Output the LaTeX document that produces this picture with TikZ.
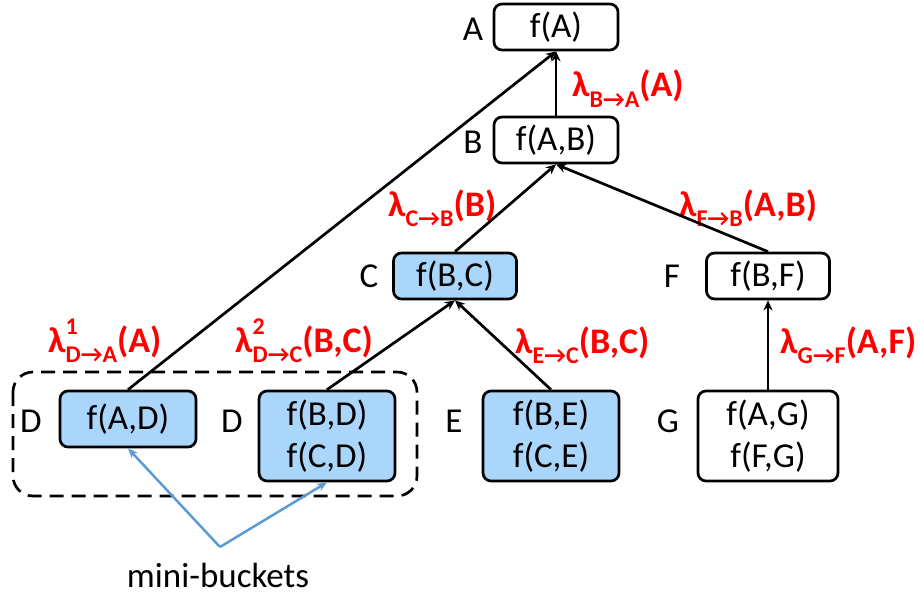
\documentclass[tikz,border=0pt]{standalone}
\usepackage{fontspec}
\setmainfont{Carlito}
\usepackage{tikz}
\usetikzlibrary{arrows.meta}
\definecolor{bucketblue}{RGB}{170,214,252}
\definecolor{pointerblue}{RGB}{91,155,213}
\newcommand{\subfnt}{\fontsize{24}{24}\selectfont}
\newcommand{\msglbl}[3]{λ\rlap{\raisebox{0.5em}{\subfnt #2}}\raisebox{-0.3em}{\subfnt #1}(#3)}

\begin{document}
\begin{tikzpicture}[x=1pt,y=-1pt]
				\useasboundingbox (0,0) rectangle (920,596);
				\begin{scope}[every node/.style={draw,rounded corners=8pt,line width=2.7pt,inner sep=0pt,align=center,minimum height=46pt,font=\fontsize{35}{42}\selectfont}]
				\node[minimum width=124pt] (fA) at (556,27) {f(A)};
				\node[minimum width=124pt] (fAB) at (556,140) {f(A,B)};
				\node[minimum width=123pt,fill=bucketblue] (fBC) at (455,276) {f(B,C)};
				\node[minimum width=123pt] (fBF) at (768,276) {f(B,F)};
				\node[minimum width=136pt,minimum height=56pt,fill=bucketblue] (fAD) at (128,419) {f(A,D)};
				\node[minimum width=136pt,minimum height=90pt,fill=bucketblue] (fBD) at (327,436) {f(B,D)\\f(C,D)};
				\node[minimum width=136pt,minimum height=90pt,fill=bucketblue] (fBE) at (551,436) {f(B,E)\\f(C,E)};
				\node[minimum width=140pt,minimum height=90pt] (fAG) at (768,436) {f(A,G)\\f(F,G)};
				\end{scope}
				\begin{scope}[every node/.style={font=\fontsize{35}{42}\selectfont}]
				\node (A) at (473,29) {A};
				\node (B) at (473,142) {B};
				\node (C) at (369,276) {C};
				\node (F) at (672,276) {F};
				\node (D1) at (31,421) {D};
				\node (D2) at (232,421) {D};
				\node (E) at (454,421) {E};
				\node (G) at (668,421) {G};
				\node (mini) at (218,575) {mini-buckets};
				\end{scope}
				\begin{scope}[every node/.style={text=red,anchor=base west,inner sep=0pt,font=\bfseries\fontsize{36}{42}\selectfont}]
				\node (lBA) at (572,97) {\msglbl{B→A}{}{A}};
				\node (lCB) at (388,216) {\msglbl{C→B}{}{B}};
				\node (lFB) at (679,216) {\msglbl{F→B}{}{A,B}};
				\node (lDA) at (48,352) {\msglbl{D→A}{1}{A}};
				\node (lDC) at (235,352) {\msglbl{D→C}{2}{B,C}};
				\node (lEC) at (515,353) {\msglbl{E→C}{}{B,C}};
				\node (lGF) at (780,353) {\msglbl{G→F}{}{A,F}};
				\end{scope}
				\draw[dashed,dash pattern=on 14pt off 8pt,line width=2.7pt,rounded corners=20pt] (13,372) rectangle (417,496);
				\begin{scope}[>={Stealth[black,length=10pt,width=9pt]},
				every edge/.style={draw=black,line width=2.7pt}]
				\path [->] (fAB) edge (fA);
				\path [->] (fAD.north) edge (fA.south);
				\path [->] (fBC.north) edge (fAB.south);
				\path [->] (fBF.north) edge (fAB.south);
				\path [->] (fBD.north) edge (fBC.south);
				\path [->] (fBE.north) edge (fBC.south);
				\path [->] (fAG) edge (fBF);
				\end{scope}
				\coordinate (mb) at (220,547);
				\begin{scope}[>={Stealth[pointerblue,length=10pt,width=8pt]},
				every edge/.style={draw=pointerblue,line width=2.5pt}]
				\path [->] (mb) edge (fAD.south);
				\path [->] (mb) edge (fBD.south);
				\end{scope}
				\end{tikzpicture}
\end{document}
